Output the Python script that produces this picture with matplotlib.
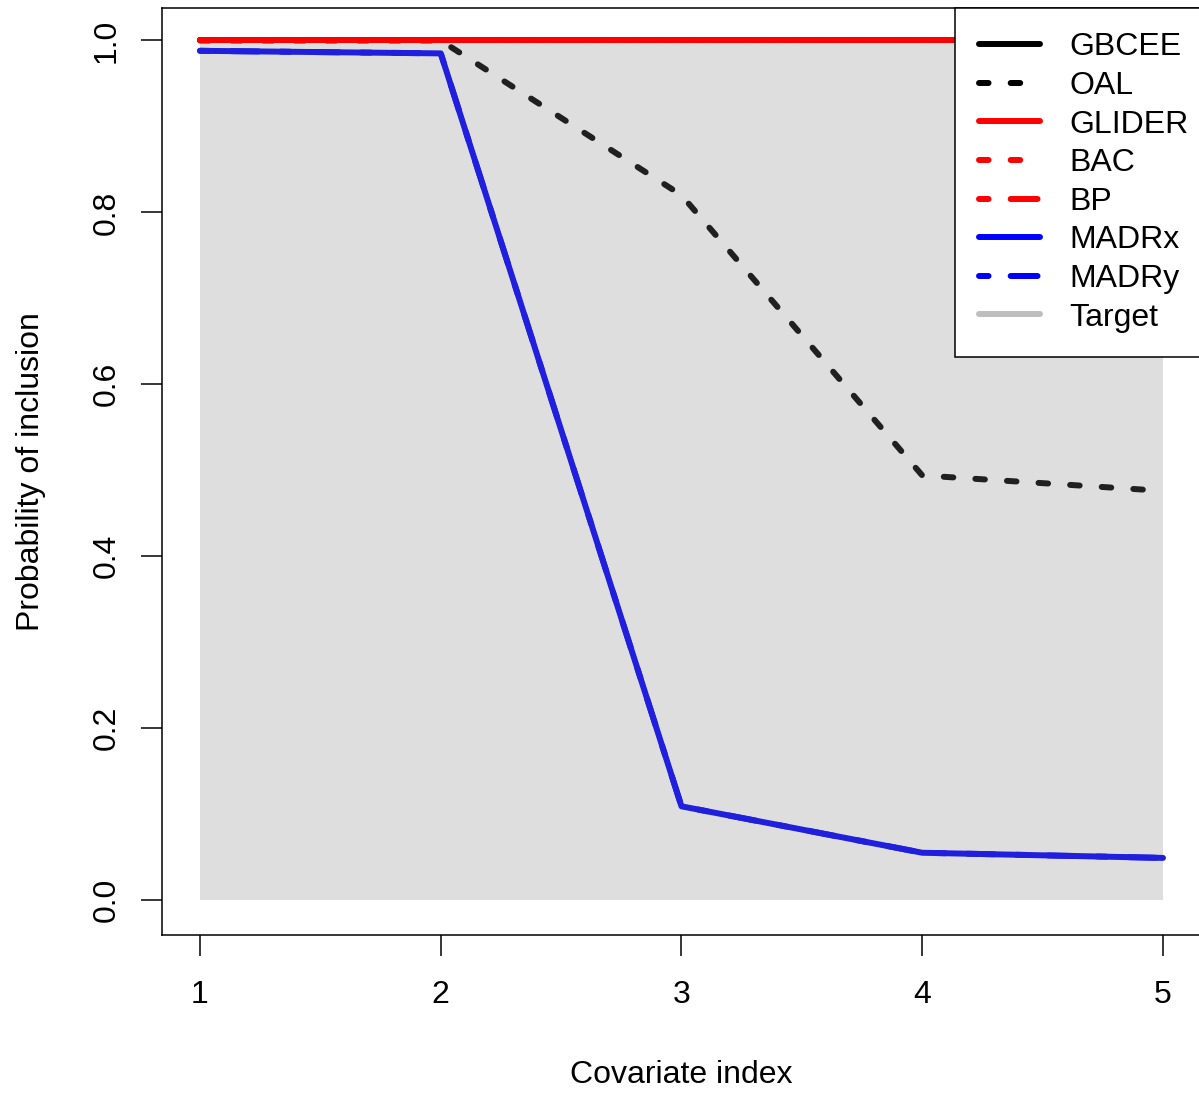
import matplotlib
matplotlib.use("Agg")
import matplotlib.pyplot as plt
from matplotlib.lines import Line2D

plt.rcParams['font.family'] = ['Liberation Sans', 'DejaVu Sans']

# ---- data ----
covariate_index = [1, 2, 3, 4, 5]
target = [1.0, 1.0, 1.0, 1.0, 1.0]
gbcee = [1.0, 1.0, 1.0, 1.0, 1.0]
oal = [1.0, 1.0, 0.82, 0.494, 0.476]
glider = [1.0, 1.0, 1.0, 1.0, 1.0]
bac = [1.0, 1.0, 1.0, 1.0, 1.0]
bp = [1.0, 1.0, 1.0, 1.0, 1.0]
madrx = [0.988, 0.985, 0.109, 0.055, 0.049]
madry = [0.988, 0.985, 0.109, 0.055, 0.049]
method_names = ["GBCEE", "OAL", "GLIDER", "BAC", "BP", "MADRx", "MADRy", "Target"]
x_ticks = [1, 2, 3, 4, 5]
y_ticks = [0.0, 0.2, 0.4, 0.6, 0.8, 1.0]
y_tick_labels = ["0.0", "0.2", "0.4", "0.6", "0.8", "1.0"]

W, H = 1199, 1094
fig = plt.figure(figsize=(W / 100, H / 100), dpi=100)
L, R, T, B = 162, 1201.5, 8, 935
ax = fig.add_axes([L / W, (H - B) / H, (R - L) / W, (B - T) / H])
ax.set_xlim(0.8422, 5.16)
ax.set_ylim(-0.0407, 1.0378)

FS = 23
LW = 4.3
dotted = (0, (1.6, 3.7))
dotdash = (0, (1.6, 3.7, 4.5, 3.7))

ax.fill_between(covariate_index, 0, target, color='#dedede', lw=0, zorder=1)

common = dict(solid_capstyle='round', dash_capstyle='round', lw=LW, zorder=3)
ax.plot(covariate_index, gbcee, color='black', linestyle='-', **common)
ax.plot(covariate_index, oal, color='#202020', linestyle=dotted, **common)
ax.plot(covariate_index, glider, color='#ff0000', linestyle='-', **common)
ax.plot(covariate_index, bac, color='#ff0000', linestyle=dotted, **common)
ax.plot(covariate_index, bp, color='#ff0000', linestyle=dotdash, **common)
ax.plot(covariate_index, madrx, color='#1f1fdd', linestyle='-', **common)
ax.plot(covariate_index, madry, color='#1f1fdd', linestyle=dotdash, **common)

for s in ax.spines.values():
    s.set_linewidth(1.1)
    s.set_color('black')

ax.set_xticks(x_ticks)
ax.set_xticklabels([str(v) for v in x_ticks])
ax.set_yticks(y_ticks)
ax.set_yticklabels(y_tick_labels, rotation=90, va='center')
ax.tick_params(axis='both', length=15, width=1.1, labelsize=FS, color='black')
ax.tick_params(axis='x', pad=17.5)
ax.tick_params(axis='y', pad=14)

ax.set_xlabel("Covariate index", fontsize=FS)
ax.set_ylabel("Probability of inclusion", fontsize=FS)
ax.xaxis.set_label_coords(0.5, -0.1345)
ax.yaxis.set_label_coords(-0.112, 0.5)

handles = [
    Line2D([], [], color='black', lw=LW, linestyle='-', solid_capstyle='round'),
    Line2D([], [], color='black', lw=LW, linestyle=dotted, dash_capstyle='round'),
    Line2D([], [], color='#ff0000', lw=LW, linestyle='-', solid_capstyle='round'),
    Line2D([], [], color='#ff0000', lw=LW, linestyle=dotted, dash_capstyle='round'),
    Line2D([], [], color='#ff0000', lw=LW, linestyle=dotdash, dash_capstyle='round'),
    Line2D([], [], color='#0000ff', lw=LW, linestyle='-', solid_capstyle='round'),
    Line2D([], [], color='#0000ff', lw=LW, linestyle=dotdash, dash_capstyle='round'),
    Line2D([], [], color='#bebebe', lw=LW, linestyle='-', solid_capstyle='round'),
]
leg = ax.legend(handles, method_names, loc='upper left',
                bbox_to_anchor=((955 - L) / (R - L), 1.0), borderaxespad=0,
                fontsize=FS, frameon=True, fancybox=False, framealpha=1,
                edgecolor='black', handlelength=1.9, handletextpad=0.93,
                labelspacing=0.27, borderpad=0.76)
leg.get_frame().set_linewidth(1.1)
leg.set_zorder(5)

fig.savefig("out.png", dpi=100)
